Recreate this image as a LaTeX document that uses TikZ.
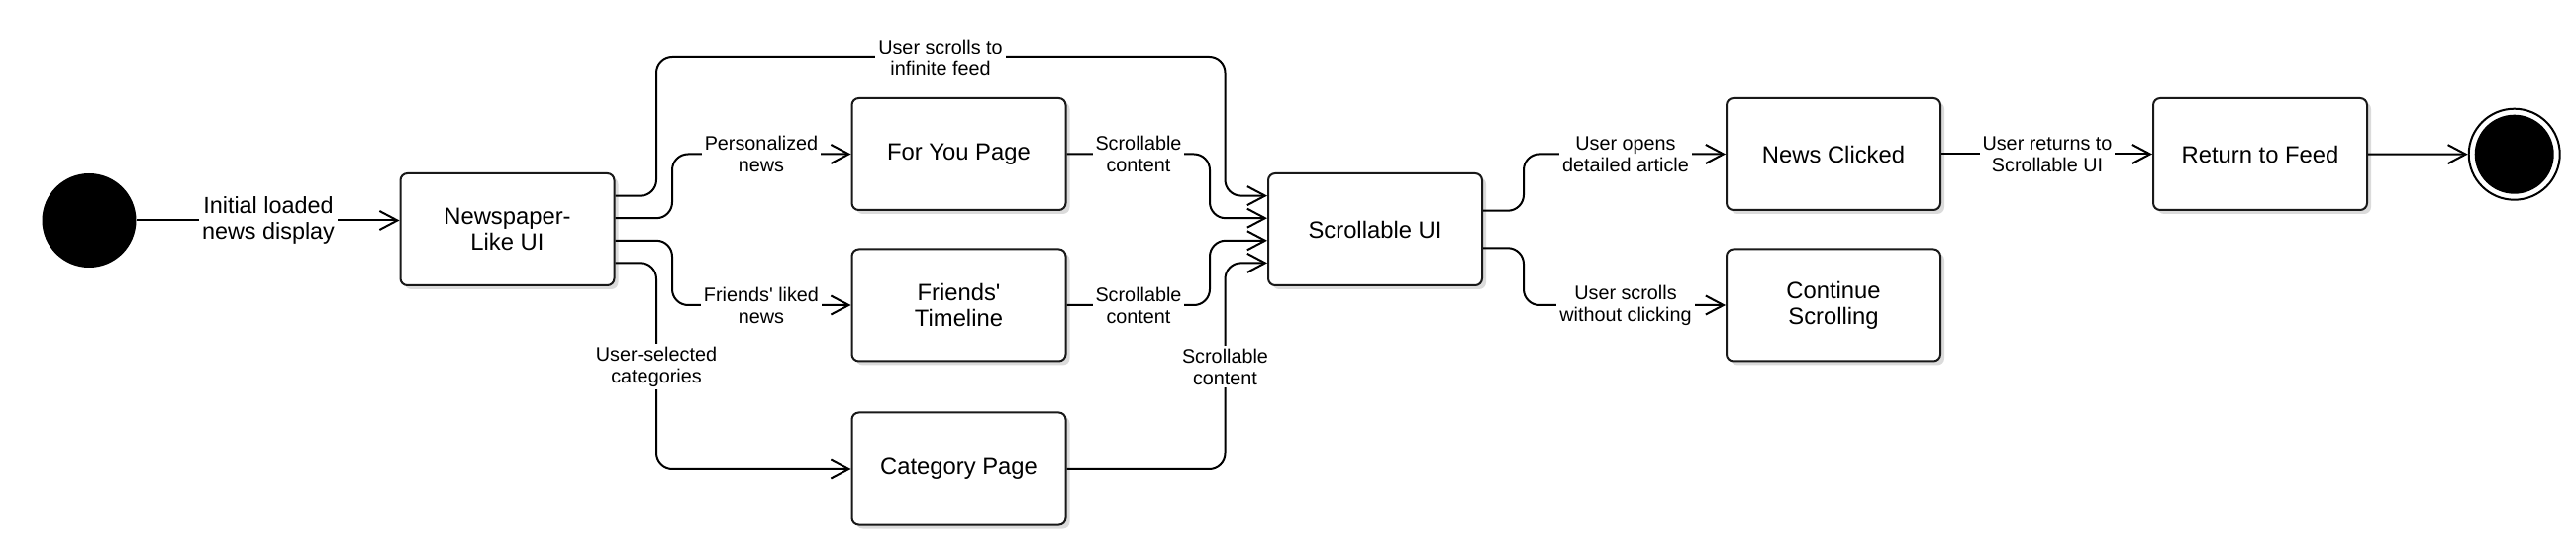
\documentclass[tikz,border=0pt]{standalone}
\usepackage{fontspec}
\setmainfont{Liberation Sans}
\usetikzlibrary{arrows.meta,shadows}
\begin{document}
\begin{tikzpicture}[x=0.5pt,y=-0.5pt,
  statebox/.style={draw=black!90, line width=1pt, rounded corners=3.5pt, fill=white,
    minimum width=108pt, minimum height=56.5pt, align=center, inner sep=0pt,
    font=\fontsize{11.9pt}{13pt}\selectfont,
    drop shadow={shadow xshift=2pt, shadow yshift=-2pt, fill=black!14, opacity=1}},
  lbl/.style={fill=white, align=center, inner sep=1.5pt, font=\fontsize{9.9pt}{11pt}\selectfont},
  biglbl/.style={fill=white, align=center, inner sep=1.5pt, font=\fontsize{11.7pt}{13pt}\selectfont},
  conn/.style={draw=black, line width=1pt, rounded corners=8pt,
    -{Straight Barb[length=9pt,width=9.5pt,line width=1pt]}}
]
\useasboundingbox (0,0) rectangle (2602,550);

% states
\node[circle, fill=black, minimum size=47.5pt, inner sep=0pt] (start) at (90,222.5) {};
\node[statebox] (news) at (512.5,231.5) {Newspaper-\\Like UI};
\node[statebox] (foryou) at (968.5,155.5) {For You Page};
\node[statebox] (friends) at (968.5,308) {Friends\textquotesingle\\Timeline};
\node[statebox] (cat) at (968.5,473) {Category Page};
\node[statebox] (scroll) at (1389,231.5) {Scrollable UI};
\node[statebox] (clicked) at (1852,155.5) {News Clicked};
\node[statebox] (cont) at (1852,308) {Continue\\Scrolling};
\node[statebox] (ret) at (2283,155.5) {Return to Feed};
\node[circle, draw=black, line width=1pt, fill=white, minimum size=46pt, inner sep=0pt] (end) at (2539.7,155.7) {};
\node[circle, fill=black, minimum size=40pt, inner sep=0pt] (endcore) at (end.center) {};

% connectors
\draw[conn] (start) -- (start -| news.west);
\draw[conn] ([shift={(0,-33.9)}]news.east) -| (663,58) -| (1237.5,197.6) -- ([shift={(0,-33.9)}]scroll.west);
\draw[conn] ([shift={(0,-11.3)}]news.east) -- (679,220.2) |- (foryou.west);
\draw[conn] ([shift={(0,11.3)}]news.east) -- (679,242.8) |- (friends.west);
\draw[conn] ([shift={(0,33.9)}]news.east) -- (663,265.4) |- (cat.west);
\draw[conn] (foryou.east) -| (1222,220.2) -- ([shift={(0,-11.3)}]scroll.west);
\draw[conn] (friends.east) -| (1222,242.8) -- ([shift={(0,11.3)}]scroll.west);
\draw[conn] (cat.east) -| (1237.5,265.4) -- ([shift={(0,33.9)}]scroll.west);
\draw[conn] ([shift={(0,-18.8)}]scroll.east) -- (1539,212.7) |- (clicked.west);
\draw[conn] ([shift={(0,18.8)}]scroll.east) -- (1539,250.3) |- (cont.west);
\draw[conn] (clicked) -- (ret);
\draw[conn] (ret) -- (end);

% labels
\node[biglbl] (l0) at (271,222.5) {Initial loaded\\news display};
\node[lbl] (l1) at (950,58) {User scrolls to\\infinite feed};
\node[lbl] (l2) at (769,155.5) {Personalized\\news};
\node[lbl] (l3) at (769,308) {Friends\textquotesingle{} liked\\news};
\node[lbl] (l4) at (663,370) {User-selected\\categories};
\node[lbl] (l5) at (1150,155.5) {Scrollable\\content};
\node[lbl] (l6) at (1150,308) {Scrollable\\content};
\node[lbl] (l7) at (1237.5,370) {Scrollable\\content};
\node[lbl] (l8) at (1642,155.5) {User opens\\detailed article};
\node[lbl] (l9) at (1642,308) {User scrolls\\without clicking};
\node[lbl] (l10) at (2068,155.5) {User returns to\\Scrollable UI};
\end{tikzpicture}
\end{document}
